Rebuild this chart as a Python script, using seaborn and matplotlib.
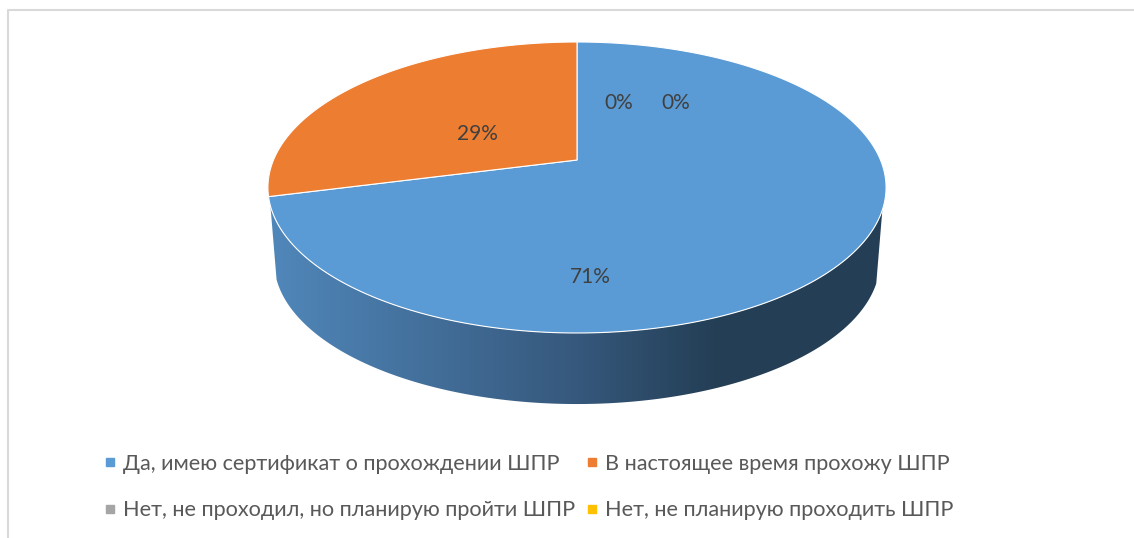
import numpy as np
import seaborn as sns
import matplotlib.pyplot as plt
from matplotlib.lines import Line2D
from matplotlib.patches import Polygon
from matplotlib.colors import LinearSegmentedColormap

categories = [
    "Да, имею сертификат о прохождении ШПР",
    "В настоящее время прохожу ШПР",
    "Нет, не проходил, но планирую пройти ШПР",
    "Нет, не планирую проходить ШПР",
]
shares = [71, 29, 0, 0]
pct_labels = ["71%", "29%", "0%", "0%"]
label_xy = [(590, 277), (477, 134), (619, 103), (676, 103)]
colors = ["#5B9BD5", "#ED7D31", "#A5A5A5", "#FFC000"]

sns.set_theme(style="white")
plt.rcParams["font.family"] = ["Lato", "Open Sans", "DejaVu Sans"]

fig = plt.figure(figsize=(11.34, 5.38), dpi=100)
ax = fig.add_axes([0, 0, 1, 1])
ax.set_xlim(0, 1134)
ax.set_ylim(538, 0)
ax.axis("off")

# perspective pie: apex of the slices is not the middle of the ellipse
CX, CY = 577, 160
WX, WY, P = 303.5, 140.3, 0.189


def project(theta):
    c, s = np.cos(theta), np.sin(theta)
    return CX + WX * c / (1 + P * s), CY - WY * s / (1 + P * s)


def rim(t0, t1, n=200):
    return np.column_stack(project(np.linspace(t0, t1, n)))


# side wall, dark gradient clipped to the lower rim
DEPTH, SHRINK = 74.5, 0.98
t0, t1 = np.radians(198), np.radians(340.5)
top_edge = rim(t0, t1)
low_edge = top_edge.copy()
low_edge[:, 0] = CX + (low_edge[:, 0] - CX) * SHRINK
low_edge[:, 1] = CY + (low_edge[:, 1] - CY) * SHRINK + DEPTH
wall = Polygon(np.vstack([top_edge, low_edge[::-1]]), closed=True, fc="none", ec="none")
ax.add_patch(wall)
cmap = LinearSegmentedColormap.from_list(
    "wall", [(0, "#5087BA"), (0.5, "#36587C"), (0.72, "#243F56"), (1, "#233E55")]
)
grad = ax.imshow(
    np.linspace(0, 1, 256).reshape(1, -1),
    extent=(270, 886, 410, 190),
    cmap=cmap,
    aspect="auto",
    zorder=1,
)
grad.set_clip_path(wall)
ax.set_xlim(0, 1134)
ax.set_ylim(538, 0)

# slices clockwise from the top
start = np.pi / 2
for share, color in zip(shares, colors):
    if share == 0:
        continue
    end = start - 2 * np.pi * share / sum(shares)
    pts = np.vstack([[CX, CY], rim(start, end, 300)])
    ax.add_patch(Polygon(pts, closed=True, fc=color, ec="white", lw=0.8, zorder=2))
    start = end

for text, (x, y) in zip(pct_labels, label_xy):
    ax.text(x, y, text, ha="center", va="center", fontsize=15, color="#404040", zorder=3)

# outer frame of the chart area, only top and left are inside the crop
ax.plot([7.5, 7.5, 1134], [538, 9.5, 9.5], color="#D9D9D9", lw=1.5, clip_on=False)

handles = [
    Line2D([], [], ls="none", marker="s", ms=6, color=c, label=name)
    for c, name in zip(colors, categories)
]
# column order of the legend is row by row in the original
leg = ax.legend(
    handles=[handles[0], handles[2], handles[1], handles[3]],
    ncol=2,
    frameon=False,
    fontsize=15.6,
    labelcolor="#595959",
    loc="upper left",
    bbox_to_anchor=(88 / 1134, 1 - 443 / 538),
    labelspacing=1.22,
    columnspacing=0.285,
    handletextpad=0.1,
    handlelength=1.0,
    borderpad=0,
)

fig.savefig("out.png", dpi=100)
